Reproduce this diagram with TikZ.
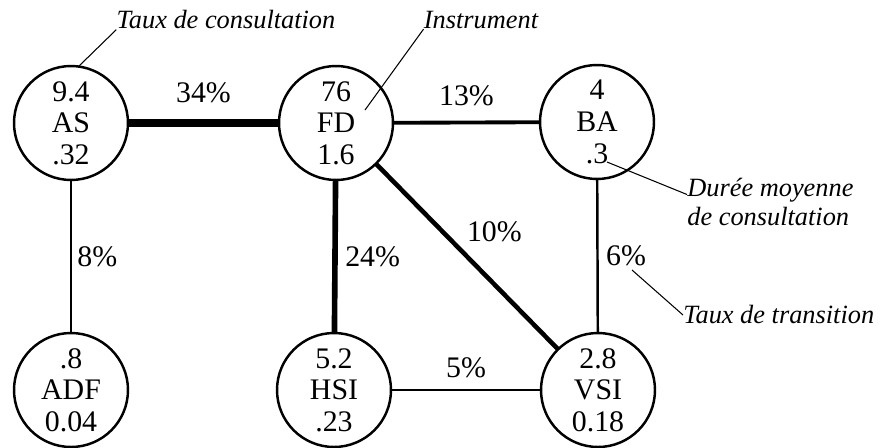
\documentclass[tikz,border=0pt]{standalone}
\usepackage{fontspec}
\setmainfont{Liberation Serif}
\tikzset{
    statenode/.style = {
        align=center,
        circle,
        draw=black,
        line width=1.4pt,
        minimum size=2.28cm,
        inner sep=0pt,
        outer sep=0mm,
        font=\fontsize{17}{18}\selectfont
    },
    ratelabel/.style = {
        font=\fontsize{17}{18}\selectfont,
        inner sep=1mm
    },
    notelabel/.style = {
        font=\fontsize{15}{16.5}\selectfont\itshape,
        inner sep=0pt
    },
    leader/.style = {
        line width=0.6pt
    }
}

\begin{document}
\begin{tikzpicture}[x=0.02cm, y=-0.02cm]
            \useasboundingbox (0,0) rectangle (886,447);
            \node [statenode] (AS)  at (71,123)  {9.4\\AS\\.32};
            \node [statenode] (FD)  at (336,123) {76\\FD\\1.6};
            \node [statenode] (BA)  at (597,122) {4\\BA\\.3};
            \node [statenode] (ADF) at (71,390)  {.8\\ADF\\0.04};
            \node [statenode] (HSI) at (334,390) {5.2\\HSI\\.23};
            \node [statenode] (VSI) at (598,390) {2.8\\VSI\\0.18};

            \draw [line width=4pt] (AS) -- (FD) node [ratelabel, midway, above=2.4mm] {34\%};
            \draw [line width=2.2pt] (FD) -- (BA) node [ratelabel, midway, above=2mm] {13\%};
            \draw [line width=1.6pt] (AS) -- (ADF) node [ratelabel, midway, right] {8\%};
            \draw [line width=3.2pt] (FD) -- (HSI) node [ratelabel, midway, right=0.5mm] {24\%};
            \draw [line width=2.6pt] (FD) -- (VSI) node [ratelabel, pos=0.46, above right] {10\%};
            \draw [line width=1.4pt] (BA) -- (VSI) node [ratelabel, midway, right=0.5mm] {6\%};
            \draw [line width=1.1pt] (HSI) -- (VSI) node [ratelabel, midway, above=1.2mm] {5\%};

            \node [notelabel] (consult) at (226,20) {Taux de consultation};
            \node [notelabel] (instr) at (481,20) {Instrument};
            \node [notelabel, align=left, anchor=west] (duree) at (687,202) {Durée moyenne\\de consultation};
            \node [notelabel, anchor=west] (transit) at (683,315) {Taux de transition};

            \coordinate (consultend) at (78,67);
            \coordinate (instrend) at (365,110);
            \coordinate (dureeend) at (607,162);
            \coordinate (transitend) at (632,270);

            \draw [leader] (consult.south west) -- (consultend);
            \draw [leader] (instr.south west) -- (instrend);
            \draw [leader] (dureeend) -- ([yshift=1.5mm]duree.west);
            \draw [leader] (transitend) -- (transit.west);
        \end{tikzpicture}
\end{document}
